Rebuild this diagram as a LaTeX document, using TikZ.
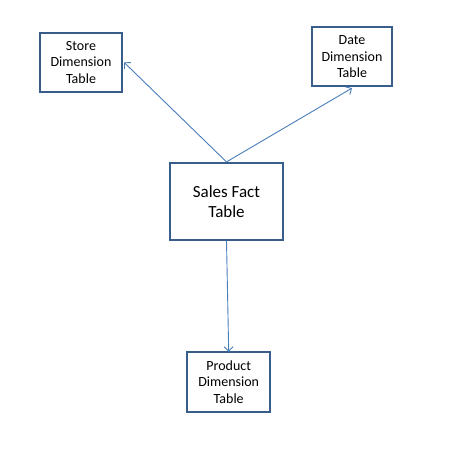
\documentclass[tikz,border=0pt]{standalone}
\usepackage{fontspec}
\setmainfont{Carlito}
\usetikzlibrary{arrows.meta}
\definecolor{boxline}{HTML}{385D8A}
\definecolor{arrowc}{HTML}{4A7EBB}
\begin{document}
\begin{tikzpicture}[x=1pt,y=-1pt,
  dimbox/.style={draw=boxline,line width=2pt,align=center,inner sep=0pt,
    font=\fontsize{14}{16.5}\selectfont},
  factbox/.style={draw=boxline,line width=2pt,align=center,inner sep=0pt,
    font=\fontsize{17}{20}\selectfont},
  conn/.style={draw=arrowc,line width=0.9pt,-{Straight Barb[length=4.5pt,width=9pt]}}]
\useasboundingbox (0,0) rectangle (455,454);
\node[dimbox,minimum width=82pt,minimum height=59pt] (store) at (81,62.3) {Store\\Dimension\\Table};
\node[dimbox,minimum width=80pt,minimum height=59pt] (date) at (352,56.6) {Date\\Dimension\\Table};
\node[factbox,minimum width=113pt,minimum height=77pt] (fact) at (226.5,201.4) {Sales Fact\\Table};
\node[dimbox,minimum width=83pt,minimum height=60pt] (product) at (228.7,382) {Product\\Dimension\\Table};
\draw[conn] (fact.north) -- ([xshift=1pt]store.east);
\draw[conn] (fact.north) -- ([yshift=-1pt]date.south);
\draw[conn] (fact.south) -- ([yshift=-0.8pt]product.north);
\end{tikzpicture}
\end{document}
